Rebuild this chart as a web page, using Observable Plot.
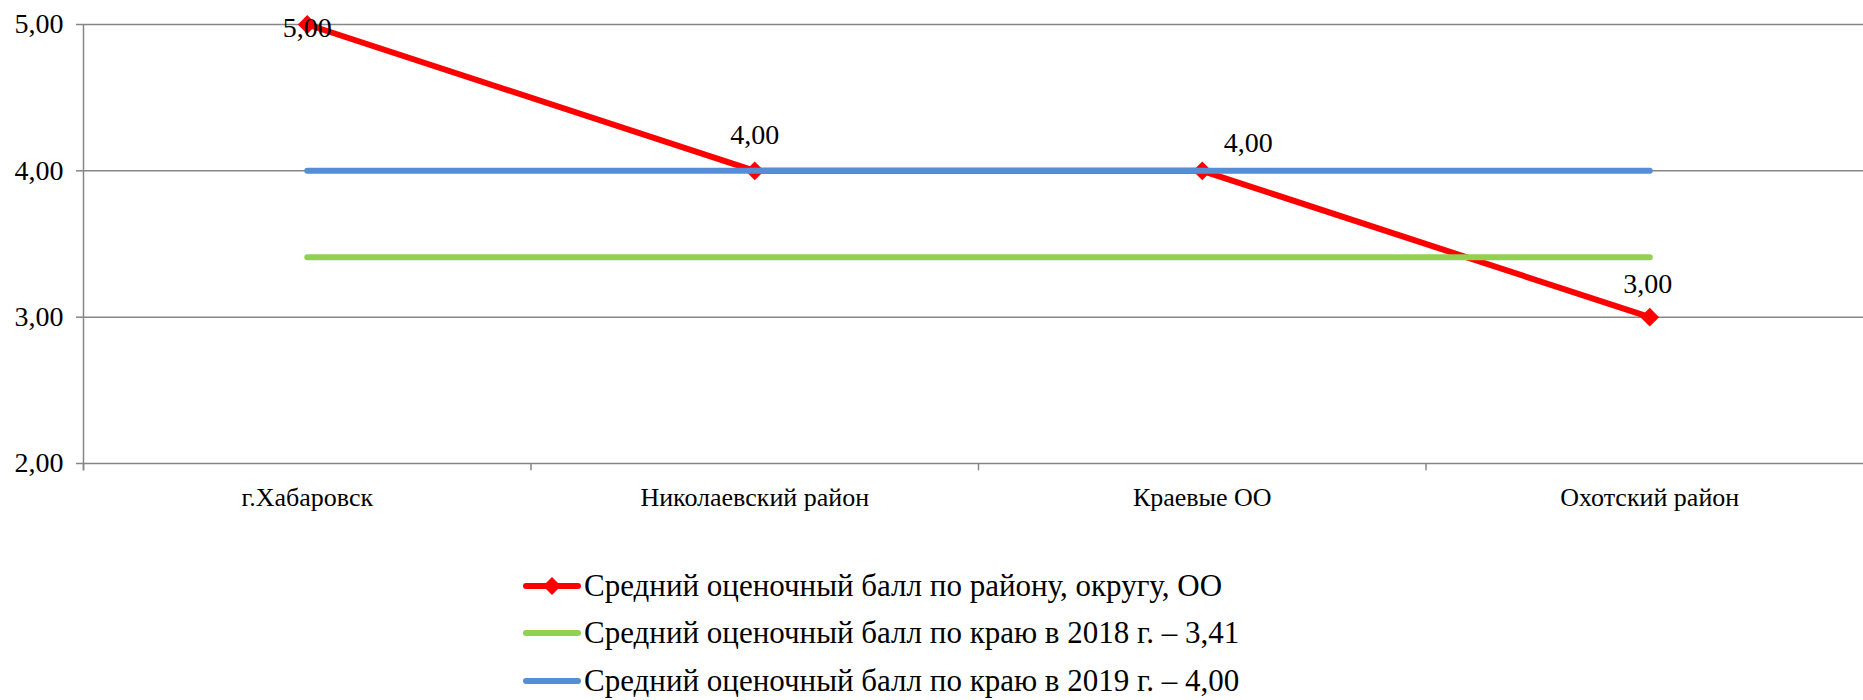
<!DOCTYPE html>
<html>
<head>
<meta charset="utf-8">
<script src="https://cdn.jsdelivr.net/npm/d3@7"></script>
<script src="https://cdn.jsdelivr.net/npm/@observablehq/plot@0.6"></script>
<style>
  html, body { margin: 0; padding: 0; background: #fff; }
  body { width: 1863px; height: 700px; overflow: hidden; font-family: "Liberation Serif", "Times New Roman", serif; }
  #legend { padding-left: 523px; }
  .row { display: flex; align-items: center; height: 47.5px; font-size: 31px; color: #000; white-space: nowrap; }
  .row svg { flex: none; margin-right: 3px; }
</style>
</head>
<body>
<div id="chart"></div>
<div id="legend"></div>
<script>
const categories = ["г.Хабаровск", "Николаевский район", "Краевые ОО", "Охотский район"];
const districtScores = [5.00, 4.00, 4.00, 3.00];
const region2018 = 3.41;
const region2019 = 4.00;
const yTicks = [2, 3, 4, 5];
const seriesNames = [
  "Средний оценочный балл по району, округу, ОО",
  "Средний оценочный балл по краю в 2018 г. – 3,41",
  "Средний оценочный балл по краю в 2019 г. – 4,00"
];
const seriesColors = ["#FF0000", "#92D050", "#558ED5"];

const fmt = v => v.toFixed(2).replace(".", ",");
const idx = categories.map((c, i) => i);
const red = idx.map(i => ({i, v: districtScores[i]}));
const green = idx.map(i => ({i, v: region2018}));
const blue = idx.map(i => ({i, v: region2019}));
const grid = "#868686";
const font = "Liberation Serif";

// label placement (style) per point
const labelPlace = [{dx: 0, dy: 4}, {dx: 0, dy: -36}, {dx: 46, dy: -28}, {dx: -2, dy: -33}];

const labelMarks = red.map((d, k) => Plot.text([d], {
  x: "i", y: "v", text: r => fmt(r.v), dx: labelPlace[k].dx, dy: labelPlace[k].dy,
  fill: "#000", fontSize: 28, fontFamily: font, textAnchor: "middle"
}));

const boundaries = d3.range(categories.length + 1).map(i => i - 0.5);

const chart = Plot.plot({
  width: 1863,
  height: 562,
  marginLeft: 83,
  marginRight: 0,
  marginTop: 24,
  marginBottom: 99,
  style: {fontFamily: font, fontSize: "26px", color: "#000", background: "#fff"},
  x: {type: "linear", domain: [-0.5, categories.length - 0.5], range: [83, 1873], axis: null},
  y: {domain: [2, 5], axis: null},
  marks: [
    Plot.gridY(yTicks, {stroke: grid, strokeOpacity: 1, strokeWidth: 1.5}),
    Plot.axisY(yTicks, {label: null, tickFormat: fmt, tickSize: 7, tickPadding: 13, stroke: grid, strokeOpacity: 1, strokeWidth: 1.5, fontSize: 28, fontFamily: font, fill: "#000"}),
    Plot.ruleX([-0.5], {y1: 1.95, y2: 5, stroke: grid, strokeWidth: 1.5}),
    Plot.ruleX(boundaries, {y1: 1.95, y2: 2, stroke: grid, strokeWidth: 1.5}),
    Plot.text(idx, {x: i => i, y: 2, text: i => categories[i], dy: 34, fontSize: 26, fontFamily: font, fill: "#000"}),
    Plot.line(red, {x: "i", y: "v", stroke: seriesColors[0], strokeWidth: 6, strokeLinejoin: "round"}),
    Plot.dot(red, {x: "i", y: "v", symbol: "diamond2", r: 8.5, fill: seriesColors[0], stroke: "none"}),
    Plot.line(green, {x: "i", y: "v", stroke: seriesColors[1], strokeWidth: 6, strokeLinecap: "round"}),
    Plot.line(blue, {x: "i", y: "v", stroke: seriesColors[2], strokeWidth: 6, strokeLinecap: "round"}),
    ...labelMarks
  ]
});
document.getElementById("chart").appendChild(chart);

const legend = document.getElementById("legend");
seriesNames.forEach((name, k) => {
  const row = document.createElement("div");
  row.className = "row";
  const sw = d3.create("svg").attr("width", 58).attr("height", 22);
  sw.append("line").attr("x1", 3).attr("x2", 55).attr("y1", 11).attr("y2", 11)
    .attr("stroke", seriesColors[k]).attr("stroke-width", 6).attr("stroke-linecap", "round");
  if (k === 0) {
    sw.append("path").attr("d", "M29,2 L38,11 L29,20 L20,11 Z").attr("fill", seriesColors[k]);
  }
  row.appendChild(sw.node());
  const t = document.createElement("span");
  t.textContent = name;
  row.appendChild(t);
  legend.appendChild(row);
});
</script>
</body>
</html>
